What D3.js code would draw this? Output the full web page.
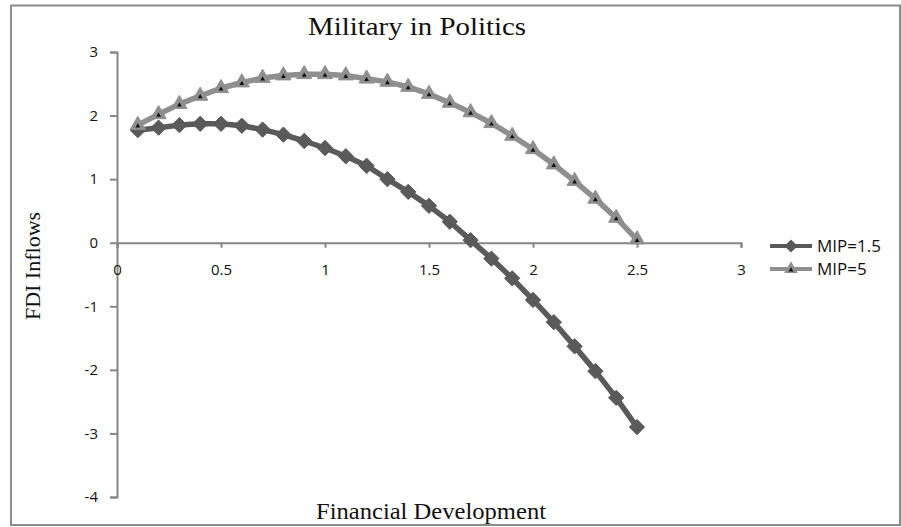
<!DOCTYPE html>
<html>
<head>
<meta charset="utf-8">
<script src="https://cdn.jsdelivr.net/npm/d3@7"></script>
<style>
  html, body { margin: 0; padding: 0; background: #fff; }
  svg { display: block; }
</style>
</head>
<body>
<svg id="chart" width="901" height="527"></svg>
<script>
// ---- Data ----
const xValues = [0.1,0.2,0.3,0.4,0.5,0.6,0.7,0.8,0.9,1.0,1.1,1.2,1.3,1.4,1.5,1.6,1.7,1.8,1.9,2.0,2.1,2.2,2.3,2.4,2.5];
const mip15 = [1.77,1.81,1.85,1.87,1.87,1.84,1.78,1.70,1.60,1.49,1.36,1.21,1.00,0.80,0.58,0.33,0.04,-0.25,-0.56,-0.90,-1.25,-1.63,-2.02,-2.44,-2.90];
const mip5  = [1.85,2.02,2.18,2.31,2.43,2.52,2.59,2.63,2.65,2.65,2.63,2.58,2.53,2.45,2.34,2.20,2.05,1.88,1.68,1.47,1.23,0.97,0.69,0.39,0.05];
const seriesNames = ["MIP=1.5", "MIP=5"];
const xTicks = [0,0.5,1,1.5,2,2.5,3];
const xTickLabels = ["0","0.5","1","1.5","2","2.5","3"];
const yTicks = [-4,-3,-2,-1,0,1,2,3];
const yTickLabels = ["-4","-3","-2","-1","0","1","2","3"];
const titleText = "Military in Politics";
const xTitle = "Financial Development";
const yTitle = "FDI Inflows";

const svg = d3.select("#chart");

// frame
svg.append("rect").attr("x", 11).attr("y", 5.5).attr("width", 889).attr("height", 519.5)
  .attr("fill", "#fff").attr("stroke", "#8c8c8c").attr("stroke-width", 2);

const x = d3.scaleLinear().domain([0, 3]).range([117, 741]);
const y = d3.scaleLinear().domain([-4, 3]).range([497, 52]);

const axisColor = "#868686";
const labelFont = "'Open Sans', 'Liberation Sans', sans-serif";

// Y axis
const yAxis = svg.append("g").attr("transform", `translate(${x(0)},0)`)
  .call(d3.axisLeft(y).tickValues(yTicks).tickSize(7).tickSizeOuter(7).tickPadding(12)
    .tickFormat((d, i) => yTickLabels[i]));
yAxis.select(".domain").attr("stroke", axisColor).attr("stroke-width", 2);
yAxis.selectAll(".tick line").attr("stroke", axisColor).attr("stroke-width", 2);
yAxis.selectAll(".tick text").attr("font-family", labelFont).attr("font-size", 15).attr("fill", "#111");

// X axis at y=0
const xAxis = svg.append("g").attr("transform", `translate(0,${y(0)})`)
  .call(d3.axisBottom(x).tickValues(xTicks).tickSize(5).tickSizeOuter(5).tickPadding(17)
    .tickFormat((d, i) => xTickLabels[i]));
xAxis.select(".domain").attr("stroke", axisColor).attr("stroke-width", 2);
xAxis.selectAll(".tick line").attr("stroke", axisColor).attr("stroke-width", 2);
xAxis.selectAll(".tick text").attr("font-family", labelFont).attr("font-size", 15).attr("fill", "#111");

// Series
const line = d3.line().x(d => x(d[0])).y(d => y(d[1]));
const d15 = xValues.map((v, i) => [v, mip15[i]]);
const d5 = xValues.map((v, i) => [v, mip5[i]]);

const c15 = "#5a5a5a", c5 = "#8f8f8f";

svg.append("path").datum(d15).attr("d", line).attr("fill", "none").attr("stroke", c15).attr("stroke-width", 5.5).attr("stroke-linejoin", "round");
const diamond = d3.symbol().type(d3.symbolDiamond2).size(150);
svg.append("g").selectAll("path").data(d15).join("path")
  .attr("transform", d => `translate(${x(d[0])},${y(d[1])})`)
  .attr("d", diamond).attr("fill", c15).attr("stroke", c15).attr("stroke-width", 1);

svg.append("path").datum(d5).attr("d", line).attr("fill", "none").attr("stroke", c5).attr("stroke-width", 5.5).attr("stroke-linejoin", "round");
const tri = d3.symbol().type(d3.symbolTriangle).size(100);
const triSmall = d3.symbol().type(d3.symbolTriangle).size(10);
const g5 = svg.append("g");
g5.selectAll("path.big").data(d5).join("path").attr("class", "big")
  .attr("transform", d => `translate(${x(d[0])},${y(d[1])})`)
  .attr("d", tri).attr("fill", c5).attr("stroke", c5).attr("stroke-width", 1);
g5.selectAll("path.small").data(d5).join("path").attr("class", "small")
  .attr("transform", d => `translate(${x(d[0])},${y(d[1]) + 1})`)
  .attr("d", triSmall).attr("fill", "#111");

// Legend
const legend = svg.append("g");
const legItems = [
  { name: seriesNames[0], color: c15, y: 246, type: "d" },
  { name: seriesNames[1], color: c5, y: 269, type: "t" }
];
legItems.forEach(it => {
  legend.append("line").attr("x1", 770).attr("x2", 812).attr("y1", it.y).attr("y2", it.y)
    .attr("stroke", it.color).attr("stroke-width", 4);
  if (it.type === "d") {
    legend.append("path").attr("transform", `translate(791,${it.y})`).attr("d", d3.symbol().type(d3.symbolDiamond2).size(110)).attr("fill", it.color);
  } else {
    legend.append("path").attr("transform", `translate(791,${it.y})`).attr("d", d3.symbol().type(d3.symbolTriangle).size(80)).attr("fill", it.color);
    legend.append("path").attr("transform", `translate(791,${it.y + 1})`).attr("d", triSmall).attr("fill", "#111");
  }
  legend.append("text").attr("x", 817).attr("y", it.y).attr("dy", "0.35em")
    .attr("font-family", labelFont).attr("font-size", 17).attr("fill", "#111").text(it.name);
});

// Titles
const serif = "'Liberation Serif', 'DejaVu Serif', serif";
svg.append("text").attr("x", 417).attr("y", 35).attr("text-anchor", "middle")
  .attr("font-family", serif).attr("font-size", 26).attr("fill", "#111")
  .attr("textLength", 218).attr("lengthAdjust", "spacingAndGlyphs").text(titleText);
svg.append("text").attr("x", 431).attr("y", 519).attr("text-anchor", "middle")
  .attr("font-family", serif).attr("font-size", 23).attr("fill", "#111")
  .attr("textLength", 230).attr("lengthAdjust", "spacingAndGlyphs").text(xTitle);
svg.append("text").attr("transform", "translate(40,266) rotate(-90)").attr("text-anchor", "middle")
  .attr("font-family", serif).attr("font-size", 22).attr("fill", "#111").text(yTitle);
</script>
</body>
</html>
